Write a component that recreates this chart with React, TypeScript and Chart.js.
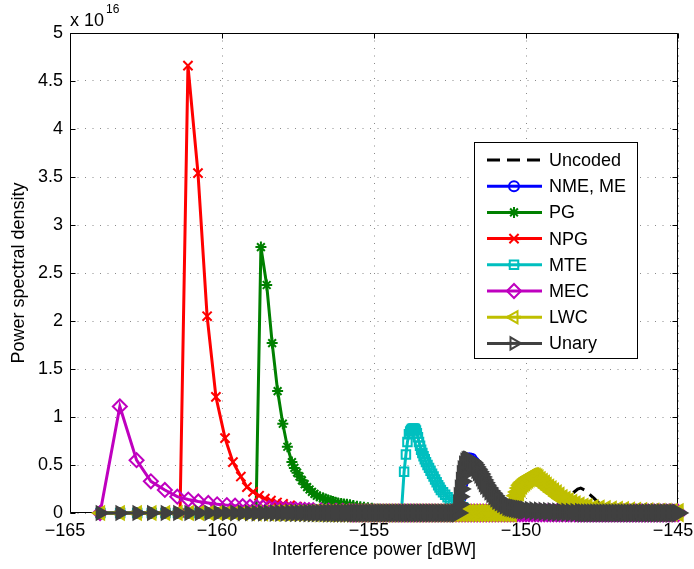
import React, { useEffect, useRef } from 'react';
import { Chart, registerables } from 'chart.js';
import { drawPoint } from 'chart.js/helpers';

Chart.register(...registerables);

const FONT = "'Liberation Sans', Arial, Helvetica, sans-serif";
const FS = 18;

// ---------- axis ticks ----------
const xTicks = [-165, -160, -155, -150, -145];
const xTickLabels = ['\u2212165', '\u2212160', '\u2212155', '\u2212150', '\u2212145'];
const yTicks = [0, 0.5, 1, 1.5, 2, 2.5, 3, 3.5, 4, 4.5, 5];
const yTickLabels = ['0', '0.5', '1', '1.5', '2', '2.5', '3', '3.5', '4', '4.5', '5'];

const seriesNames = ['Uncoded', 'NME, ME', 'PG', 'NPG', 'MTE', 'MEC', 'LWC', 'Unary'];

// common evaluation grid (dBW) where every curve sits at zero
const baseGrid = [
  -164.0, -163.35, -162.79, -162.31, -161.86, -161.45, -161.08, -160.74, -160.42, -160.12,
  -159.84, -159.57, -159.32, -159.08, -158.86, -158.65, -158.45, -158.26, -158.08, -157.91,
  -157.74, -157.58, -157.43, -157.28, -157.14, -157.0, -156.87, -156.74, -156.61, -156.49,
  -156.37, -156.25, -156.14, -156.03, -155.92, -155.81, -155.7, -155.6, -155.5, -155.4,
  -155.3, -155.2, -155.1, -155.0, -154.9, -154.8, -154.7, -154.6, -154.5, -154.4,
  -154.3, -154.2, -154.1, -154.0, -153.9, -153.8, -153.7, -153.6, -153.5, -153.4,
  -153.3, -153.2, -153.1, -153.0, -152.9, -152.8, -152.7, -152.6, -152.5, -152.4,
  -152.3, -152.2, -152.1, -152.0, -151.9, -151.8, -151.7, -151.6, -151.5, -151.4,
  -151.3, -151.2, -151.1, -151.0, -150.9, -150.8, -150.7, -150.6, -150.5, -150.4,
  -150.3, -150.2, -150.1, -150.0, -149.9, -149.8, -149.7, -149.6, -149.5, -149.4,
  -149.3, -149.2, -149.1, -149.0, -148.9, -148.8, -148.7, -148.6, -148.5, -148.4,
  -148.3, -148.2, -148.1, -148.0, -147.9, -147.8, -147.7, -147.6, -147.5, -147.4,
  -147.3, -147.2, -147.1, -147.0, -146.9, -146.8, -146.7, -146.6, -146.5, -146.4,
  -146.3, -146.2, -146.1, -146.0, -145.9, -145.8, -145.7, -145.6, -145.5, -145.4,
  -145.3, -145.2, -145.1, -145.0,
];

// ---------- series (non-zero parts, values x 1e16) ----------
const uncodedX = [-149.4, -149.1, -148.85, -148.65, -148.45, -148.3, -148.2, -148.05, -147.89, -147.75, -147.66, -147.5, -147.3, -147.0, -146.6, -146.0];
const uncodedY = [0, 0.03, 0.08, 0.15, 0.21, 0.25, 0.26, 0.235, 0.19, 0.15, 0.12, 0.08, 0.05, 0.02, 0.008, 0];

const nmeX = [-152.2, -152.15, -152.09, -152.03, -151.95, -151.87, -151.79, -151.7, -151.6, -151.5, -151.4, -151.3, -151.16, -151.03, -150.9, -150.74, -150.57, -150.42, -150.27, -150.12, -149.97, -149.82, -149.64, -149.44, -149.24, -149.04, -148.84, -148.64, -148.44, -148.24];
const nmeY = [0, 0.16, 0.31, 0.45, 0.54, 0.57, 0.565, 0.53, 0.47, 0.415, 0.355, 0.295, 0.235, 0.185, 0.14, 0.102, 0.073, 0.057, 0.046, 0.037, 0.031, 0.026, 0.021, 0.017, 0.014, 0.011, 0.009, 0.007, 0.005, 0.004];

const pgX = [-158.88, -158.72, -158.53, -158.35, -158.17, -158.0, -157.85, -157.7, -157.62, -157.53, -157.45, -157.37, -157.28, -157.2, -157.12, -157.04, -156.96, -156.88, -156.78, -156.68, -156.6, -156.51, -156.43, -156.35, -156.27, -156.18, -156.08, -155.99, -155.89, -155.79, -155.68, -155.56, -155.45, -155.33, -155.2, -155.07, -154.85, -154.64, -154.4, -154.14, -153.9, -153.65];
const pgY = [0, 2.77, 2.375, 1.77, 1.27, 0.93, 0.69, 0.53, 0.47, 0.42, 0.38, 0.34, 0.3, 0.27, 0.245, 0.22, 0.2, 0.18, 0.167, 0.155, 0.145, 0.135, 0.127, 0.12, 0.112, 0.105, 0.1, 0.095, 0.09, 0.085, 0.078, 0.07, 0.065, 0.06, 0.055, 0.05, 0.04, 0.03, 0.022, 0.015, 0.01, 0.005];

const npgX = [-161.38, -161.12, -160.79, -160.49, -160.2, -159.9, -159.64, -159.38, -159.18, -158.98, -158.78, -158.59, -158.39, -158.19, -157.99, -157.76, -157.53, -157.27, -156.94, -156.45, -155.79, -155.3];
const npgY = [0, 4.66, 3.54, 2.05, 1.21, 0.78, 0.53, 0.38, 0.27, 0.22, 0.18, 0.15, 0.13, 0.11, 0.095, 0.08, 0.065, 0.05, 0.035, 0.02, 0.01, 0.004];

const mteX = [-154.08, -154.01, -153.95, -153.9, -153.85, -153.81, -153.78, -153.75, -153.72, -153.68, -153.65, -153.62, -153.59, -153.555, -153.52, -153.485, -153.45, -153.41, -153.37, -153.33, -153.29, -153.24, -153.19, -153.14, -153.09, -153.04, -152.99, -152.94, -152.89, -152.845, -152.8, -152.73, -152.66, -152.58, -152.5, -152.4, -152.3, -152.18, -152.07, -151.81, -151.45, -150.95, -150.36];
const mteY = [0, 0.43, 0.61, 0.74, 0.82, 0.85, 0.865, 0.875, 0.88, 0.88, 0.875, 0.86, 0.83, 0.79, 0.74, 0.7, 0.66, 0.625, 0.59, 0.56, 0.53, 0.5, 0.47, 0.44, 0.41, 0.38, 0.35, 0.32, 0.29, 0.265, 0.24, 0.215, 0.19, 0.165, 0.14, 0.12, 0.1, 0.08, 0.06, 0.035, 0.02, 0.01, 0.004];

const mecX = [-164.01, -163.36, -162.81, -162.34, -161.88, -161.47, -161.11, -160.78, -160.45, -160.16, -159.84, -159.57, -159.32, -159.08, -158.86, -158.65, -158.45, -158.26, -158.08, -157.91, -157.74, -157.58, -157.43, -157.28, -157.14, -157.0, -156.74, -156.49, -156.25, -156.03, -155.81];
const mecY = [0, 1.11, 0.55, 0.33, 0.24, 0.17, 0.14, 0.12, 0.105, 0.09, 0.082, 0.075, 0.068, 0.062, 0.057, 0.052, 0.047, 0.043, 0.039, 0.035, 0.032, 0.029, 0.026, 0.023, 0.02, 0.018, 0.014, 0.011, 0.008, 0.006, 0.004];

const lwcX = [-150.49, -150.44, -150.39, -150.345, -150.3, -150.25, -150.2, -150.15, -150.1, -150.05, -150.0, -149.95, -149.9, -149.85, -149.8, -149.75, -149.7, -149.65, -149.61, -149.54, -149.47, -149.4, -149.34, -149.26, -149.18, -149.1, -149.01, -148.92, -148.82, -148.72, -148.62, -148.5, -148.39, -148.26, -148.13, -148.0, -147.8, -147.6, -147.4, -147.2, -147.0, -146.8, -146.6, -146.4, -146.2, -146.0, -145.8, -145.6, -145.4, -145.2, -145.0];
const lwcY = [0, 0.04, 0.08, 0.13, 0.18, 0.22, 0.26, 0.29, 0.31, 0.325, 0.34, 0.353, 0.365, 0.373, 0.38, 0.38, 0.375, 0.365, 0.355, 0.338, 0.32, 0.3, 0.28, 0.26, 0.24, 0.22, 0.2, 0.175, 0.15, 0.132, 0.115, 0.1, 0.085, 0.072, 0.06, 0.055, 0.047, 0.041, 0.036, 0.031, 0.027, 0.024, 0.02, 0.017, 0.015, 0.012, 0.01, 0.008, 0.006, 0.005, 0.004];

const unaryX = [-152.24, -152.21, -152.19, -152.155, -152.12, -152.09, -152.06, -152.015, -151.97, -151.93, -151.89, -151.85, -151.81, -151.76, -151.71, -151.66, -151.61, -151.56, -151.51, -151.46, -151.41, -151.365, -151.32, -151.25, -151.18, -151.115, -151.05, -150.985, -150.92, -150.84, -150.76, -150.675, -150.59, -150.52, -150.45, -150.375, -150.3, -150.225, -150.15, -150.075, -150.0, -149.85, -149.7, -149.55, -149.4, -149.25, -149.1, -148.95, -148.8, -148.65, -148.5, -148.35, -148.2];
const unaryY = [0, 0.09, 0.17, 0.25, 0.33, 0.4, 0.45, 0.5, 0.53, 0.545, 0.55, 0.548, 0.54, 0.525, 0.505, 0.48, 0.455, 0.43, 0.405, 0.375, 0.345, 0.315, 0.29, 0.26, 0.23, 0.205, 0.18, 0.157, 0.135, 0.117, 0.1, 0.085, 0.07, 0.062, 0.055, 0.05, 0.045, 0.041, 0.037, 0.033, 0.03, 0.026, 0.022, 0.019, 0.016, 0.014, 0.012, 0.01, 0.008, 0.006, 0.005, 0.004, 0.003];

const seriesX = [uncodedX, nmeX, pgX, npgX, mteX, mecX, lwcX, unaryX];
const seriesY = [uncodedY, nmeY, pgY, npgY, mteY, mecY, lwcY, unaryY];

// ---------- styles ----------
const styles = [
  { color: '#000000', pointStyle: 'circle', radius: 0, rotation: 0, dash: [13, 7], filled: false, dense: 1 },
  { color: '#0000ff', pointStyle: 'circle', radius: 5, rotation: 0, dash: [], filled: false, dense: 1 },
  { color: '#008000', pointStyle: 'star', radius: 5.5, rotation: 0, dash: [], filled: false, dense: 1 },
  { color: '#ff0000', pointStyle: 'crossRot', radius: 6.5, rotation: 0, dash: [], filled: false, dense: 1 },
  { color: '#00bfbf', pointStyle: 'rect', radius: 6, rotation: 0, dash: [], filled: false, dense: 1 },
  { color: '#bf00bf', pointStyle: 'rectRot', radius: 7, rotation: 0, dash: [], filled: false, dense: 1.2 },
  { color: '#bfbf00', pointStyle: 'triangle', radius: 7.5, rotation: -90, dash: [], filled: true, dense: 1.25 },
  { color: '#404040', pointStyle: 'triangle', radius: 7.5, rotation: 90, dash: [], filled: true, dense: 1.25 },
];

function buildPoints(xs: number[], ys: number[]) {
  const first = xs[0];
  const last = xs[xs.length - 1];
  const pts: { x: number; y: number }[] = [];
  baseGrid.forEach((x) => { if (x < first - 1e-6) pts.push({ x, y: 0 }); });
  xs.forEach((x, i) => pts.push({ x, y: ys[i] }));
  baseGrid.forEach((x) => { if (x > last + 1e-6) pts.push({ x, y: 0 }); });
  return pts;
}

// markers merge into a thicker band where the grid gets dense (right part)
function markerRadius(base: number, dense: number, x: number) {
  if (dense === 1 || x <= -160) return base;
  if (x >= -156) return base * dense;
  return base * (1 + (dense - 1) * ((x + 160) / 4));
}

const matlabPlugin = {
  id: 'matlabDecor',
  beforeDatasetsDraw(chart: any) {
    const { ctx, chartArea: a, scales } = chart;
    ctx.save();
    ctx.strokeStyle = '#000';
    ctx.lineWidth = 1;
    const L = Math.round(a.left) + 0.5;
    const R = Math.round(a.right) - 0.5;
    const T = Math.round(a.top) + 0.5;
    const B = Math.round(a.bottom) - 0.5;
    ctx.beginPath();
    ctx.rect(L, T, R - L, B - T);
    ctx.stroke();
    const tl = 5;
    ctx.beginPath();
    xTicks.forEach((v) => {
      const px = Math.round(scales.x.getPixelForValue(v)) + 0.5;
      ctx.moveTo(px, B); ctx.lineTo(px, B - tl);
      ctx.moveTo(px, T); ctx.lineTo(px, T + tl);
    });
    yTicks.forEach((v) => {
      const py = Math.round(scales.y.getPixelForValue(v)) + 0.5;
      ctx.moveTo(L, py); ctx.lineTo(L + tl, py);
      ctx.moveTo(R, py); ctx.lineTo(R - tl, py);
    });
    ctx.stroke();
    ctx.restore();
  },
  afterDraw(chart: any) {
    const { ctx, chartArea: a } = chart;
    ctx.save();
    // exponent label
    ctx.fillStyle = '#000';
    ctx.textBaseline = 'alphabetic';
    ctx.textAlign = 'left';
    ctx.font = `${FS}px ${FONT}`;
    ctx.fillText('x 10', a.left, 26);
    const w = ctx.measureText('x 10').width;
    ctx.font = `12px ${FONT}`;
    ctx.fillText('16', a.left + w + 2, 13);

    // legend
    const bx = 474.5, by = 142.5, bw = 163, bh = 216;
    ctx.fillStyle = '#fff';
    ctx.fillRect(bx, by, bw, bh);
    ctx.strokeStyle = '#000';
    ctx.lineWidth = 1;
    ctx.strokeRect(bx, by, bw, bh);
    const rowY0 = 160, rowH = 26.2;
    seriesNames.forEach((name, i) => {
      const st = styles[i];
      const y = rowY0 + i * rowH;
      ctx.save();
      ctx.strokeStyle = st.color;
      ctx.lineWidth = 3;
      ctx.setLineDash(st.dash);
      ctx.beginPath();
      ctx.moveTo(487, y);
      ctx.lineTo(542, y);
      ctx.stroke();
      ctx.setLineDash([]);
      if (st.radius > 0) {
        ctx.fillStyle = '#ffffff';
        ctx.strokeStyle = st.color;
        ctx.lineWidth = 2;
        const r = st.pointStyle === 'triangle' ? 7 : st.radius;
        drawPoint(ctx, { pointStyle: st.pointStyle, radius: r, rotation: st.rotation, borderWidth: 2 } as any, 514, y);
        ctx.beginPath();
        ctx.lineWidth = 3;
        ctx.moveTo(514 - r, y);
        ctx.lineTo(514 + r, y);
        ctx.stroke();
      }
      ctx.restore();
      ctx.fillStyle = '#000';
      ctx.font = `${FS}px ${FONT}`;
      ctx.textBaseline = 'middle';
      ctx.textAlign = 'left';
      ctx.fillText(name, 549, y + 1);
    });
    ctx.restore();
  },
};

export default function App() {
  const ref = useRef<HTMLCanvasElement | null>(null);
  useEffect(() => {
    document.body.style.margin = '0';
    const canvas = ref.current;
    if (!canvas) return;
    const datasets = seriesNames.map((name, i) => {
      const st = styles[i];
      return {
        label: name,
        data: buildPoints(seriesX[i], seriesY[i]),
        borderColor: st.color,
        backgroundColor: 'rgba(0,0,0,0)',
        borderWidth: 3,
        borderDash: st.dash,
        fill: false,
        tension: 0,
        pointStyle: st.pointStyle,
        pointRadius: (c: any) => (st.radius === 0 ? 0 : markerRadius(st.radius, st.dense, c.raw ? c.raw.x : -165)),
        pointRotation: st.rotation,
        pointBorderWidth: 2,
        pointBorderColor: st.color,
        pointBackgroundColor: st.filled ? st.color : 'rgba(0,0,0,0)',
        clip: false,
        order: 7 - i,
      };
    });
    const chart = new Chart(canvas, {
      type: 'line',
      data: { datasets } as any,
      plugins: [matlabPlugin],
      options: {
        responsive: false,
        animation: false,
        devicePixelRatio: 1,
        events: [],
        layout: { padding: { top: 33, right: 16, left: 0, bottom: 0 } },
        plugins: { legend: { display: false }, tooltip: { enabled: false } },
        scales: {
          x: {
            type: 'linear',
            min: -165,
            max: -145,
            afterBuildTicks: (s: any) => { s.ticks = xTicks.map((v) => ({ value: v })); },
            afterFit: (s: any) => { s.height = 56; s.paddingLeft = 0; s.paddingRight = 0; },
            ticks: {
              // trailing spaces nudge the label left of its tick, as in the reference
              callback: (v: any) => { const k = xTicks.indexOf(Number(v)); return k >= 0 ? xTickLabels[k] + '  ' : ''; },
              font: { family: FONT, size: FS },
              color: '#000',
              padding: 7,
              maxRotation: 0,
              autoSkip: false,
            },
            grid: { color: '#8a8a8a', lineWidth: 1, drawTicks: false },
            border: { display: false, dash: [1, 6.5] },
            title: { display: true, text: 'Interference power [dBW]', color: '#000', font: { family: FONT, size: FS }, padding: { top: 0, bottom: 8 } },
          },
          y: {
            type: 'linear',
            min: 0,
            max: 5,
            afterBuildTicks: (s: any) => { s.ticks = yTicks.map((v) => ({ value: v })); },
            afterFit: (s: any) => { s.width = 70; s.paddingTop = 0; s.paddingBottom = 0; },
            ticks: {
              callback: (v: any) => { const k = yTicks.indexOf(Number(v)); return k >= 0 ? yTickLabels[k] : ''; },
              font: { family: FONT, size: FS },
              color: '#000',
              padding: 7,
              autoSkip: false,
            },
            grid: { color: '#8a8a8a', lineWidth: 1, drawTicks: false },
            border: { display: false, dash: [1, 6.5] },
            title: { display: true, text: 'Power spectral density', color: '#000', font: { family: FONT, size: FS }, padding: { top: 8, bottom: 0 } },
          },
        },
      } as any,
    });
    return () => chart.destroy();
  }, []);
  return (
    <div style={{ width: 694, height: 569 }}>
      <canvas ref={ref} width={694} height={569} style={{ display: 'block', width: 694, height: 569 }} />
    </div>
  );
}
